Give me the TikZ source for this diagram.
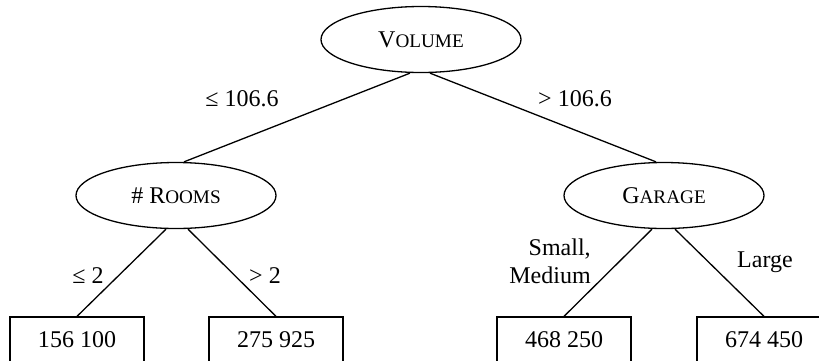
\documentclass[tikz,border=0pt]{standalone}
\usepackage{fontspec}
\setmainfont{Liberation Serif}
\usetikzlibrary{shapes.geometric,calc}
\newcommand{\fsc}[2]{#1{\fontsize{9.6pt}{11pt}\selectfont #2}}
\tikzset{
  every node/.style={font=\fontsize{12pt}{14pt}\selectfont, inner sep=0pt},
  attr/.style={ellipse, draw, line width=0.65pt, minimum width=100pt, minimum height=33pt},
  leaf/.style={rectangle, draw, line width=0.65pt, minimum width=67pt, minimum height=23pt},
  conn/.style={line width=0.65pt},
  lbl/.style={anchor=center}
}
\begin{document}
\begin{tikzpicture}[x=0.5pt,y=-0.5pt]
\useasboundingbox (0,0) rectangle (819,360);
\clip (0,0) rectangle (819,360);
\fill[white] (0,0) rectangle (819,360);
\node[attr] (vol) at (421,39.5) {\fsc{V}{OLUME}};
\node[attr] (rooms) at (176,195.5) {\# \fsc{R}{OOMS}};
\node[attr] (gar) at (664,195.5) {\fsc{G}{ARAGE}};
\node[leaf] (l1) at (77,340) {156 100};
\node[leaf] (l2) at (276,340) {275 925};
\node[leaf] (l3) at (564,340) {468 250};
\node[leaf] (l4) at (764,340) {674 450};
\draw[conn] ($(vol.south)+(-11,0)$) -- ($(rooms.north)+(8,0)$);
\draw[conn] ($(vol.south)+(9,0)$) -- ($(gar.north)+(-8,0)$);
\draw[conn] ($(rooms.south)+(-10,0)$) -- (l1.north);
\draw[conn] ($(rooms.south)+(12,0)$) -- (l2.north);
\draw[conn] ($(gar.south)+(-12,0)$) -- (l3.north);
\draw[conn] ($(gar.south)+(11,0)$) -- (l4.north);
\node[lbl] (e1) at (242,99) {≤ 106.6};
\node[lbl] (e2) at (575,99) {> 106.6};
\node[lbl] (e3) at (88,276) {≤ 2};
\node[lbl] (e4) at (265,276) {> 2};
\node[lbl, align=right, font=\fontsize{12pt}{14pt}\selectfont] (e5) at (550,261) {Small,\\Medium};
\node[lbl] (e6) at (765,262) {Large};
\end{tikzpicture}
\end{document}
